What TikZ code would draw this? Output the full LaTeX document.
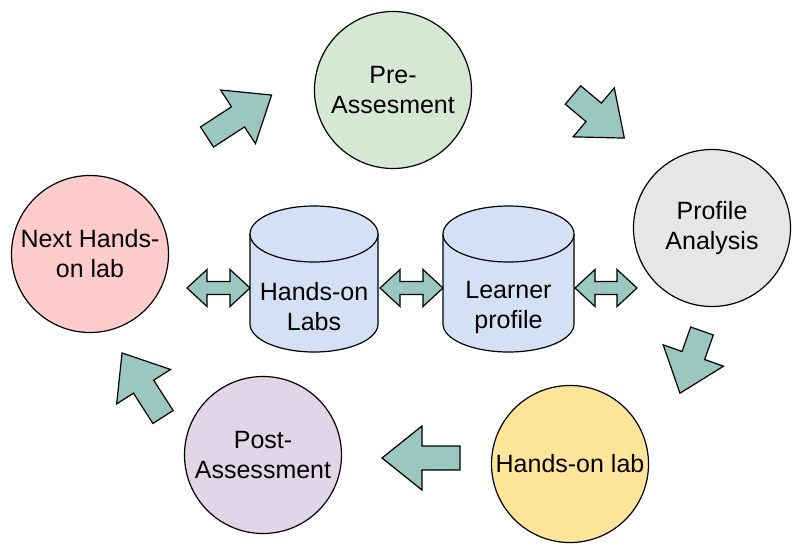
\documentclass[tikz,border=0pt]{standalone}
\usepackage{fontspec}
\setmainfont{Liberation Sans}
\definecolor{arrteal}{HTML}{9AC7BF}
\definecolor{cgreen}{HTML}{D5E8D4}
\definecolor{cgray}{HTML}{E6E6E6}
\definecolor{cyellow}{HTML}{FFE599}
\definecolor{cpurple}{HTML}{E1D5E7}
\definecolor{cpink}{HTML}{FFCCCC}
\definecolor{cblue}{HTML}{D4E1F5}
\newcommand\blkarrow[3]{%
  \begin{scope}[shift={#1}, rotate=#2]
    \draw[arrshape] (0,-12) -- ({#3-40},-12) -- ({#3-40},-32) -- (#3,0)
      -- ({#3-40},32) -- ({#3-40},12) -- (0,12) -- cycle;
  \end{scope}}
\newcommand\dblarrow[3]{% x0, x1, y
  \draw[arrshape] (#1,#3) -- ({#1+20},{#3+18.5}) -- ({#1+20},{#3+6.5})
    -- ({#2-20},{#3+6.5}) -- ({#2-20},{#3+18.5}) -- (#2,#3)
    -- ({#2-20},{#3-18.5}) -- ({#2-20},{#3-6.5}) -- ({#1+20},{#3-6.5})
    -- ({#1+20},{#3-18.5}) -- cycle;}
\newcommand\cylshape[5]{% cx, halfwidth, top, bottom, ry, fill
  \filldraw[cylstyle] ({#1-#2},{#3-#5}) -- ({#1-#2},{#4+#5})
    arc[start angle=180, end angle=360, x radius=#2 pt, y radius=#5 pt]
    -- ({#1+#2},{#3-#5})
    arc[start angle=0, end angle=180, x radius=#2 pt, y radius=#5 pt] -- cycle;
  \draw[cylstyle] ({#1-#2},{#3-#5})
    arc[start angle=180, end angle=360, x radius=#2 pt, y radius=#5 pt];}
\tikzset{
  arrshape/.style={draw=black, fill=arrteal, line width=1.2pt, line join=miter},
  cylstyle/.style={draw=black, fill=cblue, line width=1.2pt},
  circ/.style={circle, draw=black, line width=1.2pt, minimum size=157pt, inner sep=0pt,
    align=center, font=\fontsize{25}{30}\selectfont},
  lbl/.style={align=center, font=\fontsize{25}{30}\selectfont, inner sep=0pt}
}
\begin{document}
\begin{tikzpicture}[x=1pt, y=1pt]
\useasboundingbox (0,0) rectangle (797,-546);
% circles
\node[circ, fill=cgreen]  (pre)  at (393,-90)  {Pre-\\Assesment};
\node[circ, fill=cgray]   (prof) at (712,-228) {Profile\\Analysis};
\node[circ, fill=cyellow] (lab)  at (570,-464) {Hands-on lab};
\node[circ, fill=cpurple] (post) at (263,-455) {Post-\\Assessment};
\node[circ, fill=cpink]   (next) at (90,-254)  {Next Hands-\\on lab};
% cylinders
\cylshape{314}{64}{-206}{-352}{28}
\cylshape{508.5}{65.5}{-206}{-352}{28}
\node[lbl] (hlabs) at (314,-307) {Hands-on\\Labs};
\node[lbl] (lprof) at (508.5,-307) {Learner\\profile};
% cycle arrows
\blkarrow{(207,-137)}{33}{77}
\blkarrow{(573,-95)}{-40}{67}
\blkarrow{(702,-331)}{-109.5}{66}
\blkarrow{(460,-458)}{180}{78}
\blkarrow{(163,-417)}{122.6}{76}
% double arrows
\dblarrow{187}{250}{-288}
\dblarrow{380}{443}{-288}
\dblarrow{575}{637}{-288}
\end{tikzpicture}
\end{document}
